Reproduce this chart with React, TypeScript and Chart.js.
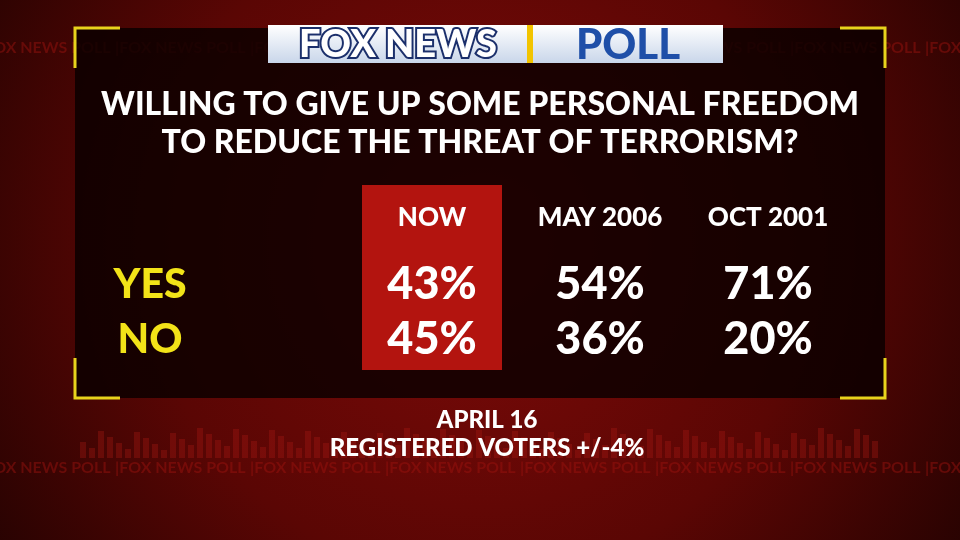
import React, { useEffect, useRef } from 'react';
import { Chart, registerables } from 'chart.js';
import type { ChartConfiguration, Plugin } from 'chart.js';

Chart.register(...registerables);

const columns = ['NOW', 'MAY 2006', 'OCT 2001'];
const rows = ['YES', 'NO'];
const yesValues = [43, 54, 71];
const noValues = [45, 36, 20];
const titleLines = ['WILLING TO GIVE UP SOME PERSONAL FREEDOM', 'TO REDUCE THE THREAT OF TERRORISM?'];
const footerLines = ['APRIL 16', 'REGISTERED VOTERS +/-4%'];

const FONT = 'Lato, "DejaVu Sans", sans-serif';

const backdrop: Plugin = {
  id: 'backdrop',
  beforeDraw(chart) {
    const { ctx, width, height } = chart;
    ctx.save();
    const g = ctx.createRadialGradient(width / 2, height * 0.45, 50, width / 2, height * 0.45, 620);
    g.addColorStop(0, '#7a0a08');
    g.addColorStop(0.5, '#5a0604');
    g.addColorStop(1, '#1e0201');
    ctx.fillStyle = g;
    ctx.fillRect(0, 0, width, height);
    // faint repeated logo text
    ctx.fillStyle = 'rgba(160,20,15,0.45)';
    ctx.font = `bold 16px ${FONT}`;
    ctx.textBaseline = 'middle';
    for (let x = -20; x < width; x += 135) {
      ctx.fillText('|FOX NEWS POLL', x, 48);
      ctx.fillText('|FOX NEWS POLL', x, 468);
    }
    // faint equalizer bars
    ctx.fillStyle = 'rgba(170,25,20,0.35)';
    for (let x = 80; x < 880; x += 9) {
      const h = 8 + ((x * 7) % 23);
      ctx.fillRect(x, 458 - h, 6, h);
    }
    // dark panel
    ctx.fillStyle = 'rgba(8,0,0,0.82)';
    ctx.fillRect(75, 28, 810, 370);
    // yellow corners
    ctx.strokeStyle = '#e8d31c';
    ctx.lineWidth = 3;
    const c = (x: number, y: number, dx: number, dy: number) => {
      ctx.beginPath();
      ctx.moveTo(x + dx * 45, y);
      ctx.lineTo(x, y);
      ctx.lineTo(x, y + dy * 40);
      ctx.stroke();
    };
    c(75, 28, 1, 1); c(885, 28, -1, 1); c(75, 398, 1, -1); c(885, 398, -1, -1);
    // logo
    const lg = ctx.createLinearGradient(0, 25, 0, 63);
    lg.addColorStop(0, '#ffffff');
    lg.addColorStop(1, '#c9d6ea');
    ctx.fillStyle = lg;
    ctx.fillRect(268, 25, 455, 38);
    ctx.fillStyle = '#f2c400';
    ctx.fillRect(527, 25, 6, 38);
    ctx.font = `900 38px ${FONT}`;
    ctx.textAlign = 'center';
    ctx.lineWidth = 4;
    ctx.strokeStyle = '#1b2f6b';
    ctx.strokeText('FOX NEWS', 398, 45);
    ctx.fillStyle = '#ffffff';
    ctx.fillText('FOX NEWS', 398, 45);
    ctx.fillStyle = '#1f4fa8';
    ctx.font = `900 42px ${FONT}`;
    ctx.fillText('POLL', 628, 45);
    // title
    ctx.fillStyle = '#ffffff';
    ctx.font = `900 32px ${FONT}`;
    titleLines.forEach((t, i) => ctx.fillText(t, 480, 105 + i * 38));
    ctx.font = `900 24px ${FONT}`;
    footerLines.forEach((t, i) => ctx.fillText(t, 487, 420 + i * 28));
    ctx.restore();
  },
  beforeDatasetsDraw(chart) {
    const { ctx } = chart;
    const x = chart.scales.x;
    const y = chart.scales.y;
    ctx.save();
    const cx = x.getPixelForValue(0);
    ctx.fillStyle = '#b3140f';
    ctx.fillRect(cx - 70, 185, 140, 185);
    ctx.fillStyle = '#ffffff';
    ctx.textAlign = 'center';
    ctx.textBaseline = 'middle';
    ctx.font = `900 26px ${FONT}`;
    columns.forEach((c, i) => ctx.fillText(c, x.getPixelForValue(i), 218));
    ctx.fillStyle = '#f2e318';
    ctx.font = `900 41px ${FONT}`;
    rows.forEach((r, i) => ctx.fillText(r, 150, y.getPixelForValue(i)));
    ctx.restore();
  },
  afterDatasetsDraw(chart) {
    const { ctx } = chart;
    ctx.save();
    ctx.fillStyle = '#ffffff';
    ctx.textAlign = 'center';
    ctx.textBaseline = 'middle';
    ctx.font = `900 45px ${FONT}`;
    chart.data.datasets.forEach((ds, di) => {
      chart.getDatasetMeta(di).data.forEach((pt, i) => {
        ctx.fillText(`${(ds.data[i] as any).v}%`, pt.x, pt.y);
      });
    });
    ctx.restore();
  },
};

const App: React.FC = () => {
  const ref = useRef<HTMLCanvasElement>(null);
  const chartRef = useRef<Chart | null>(null);

  useEffect(() => {
    document.body.style.margin = '0';
    const ctx = ref.current?.getContext('2d');
    if (!ctx) return;
    const config: ChartConfiguration = {
      type: 'line',
      data: {
        labels: columns,
        datasets: [yesValues, noValues].map((vals, r) => ({
          label: rows[r],
          data: vals.map((v, i) => ({ x: columns[i], y: rows[r], v })) as any,
          showLine: false,
          pointRadius: 0,
        })),
      },
      options: {
        animation: false,
        responsive: false,
        layout: { padding: { left: 348, right: 108, top: 257, bottom: 173 } },
        plugins: { legend: { display: false }, tooltip: { enabled: false } },
        scales: {
          x: { type: 'category', labels: columns, offset: true, display: false },
          y: { type: 'category', labels: rows, offset: true, display: false },
        },
      },
      plugins: [backdrop],
    };
    chartRef.current = new Chart(ctx, config);
    return () => {
      chartRef.current?.destroy();
      chartRef.current = null;
    };
  }, []);

  return <canvas ref={ref} width={960} height={540} style={{ display: 'block' }} />;
};

export default App;
